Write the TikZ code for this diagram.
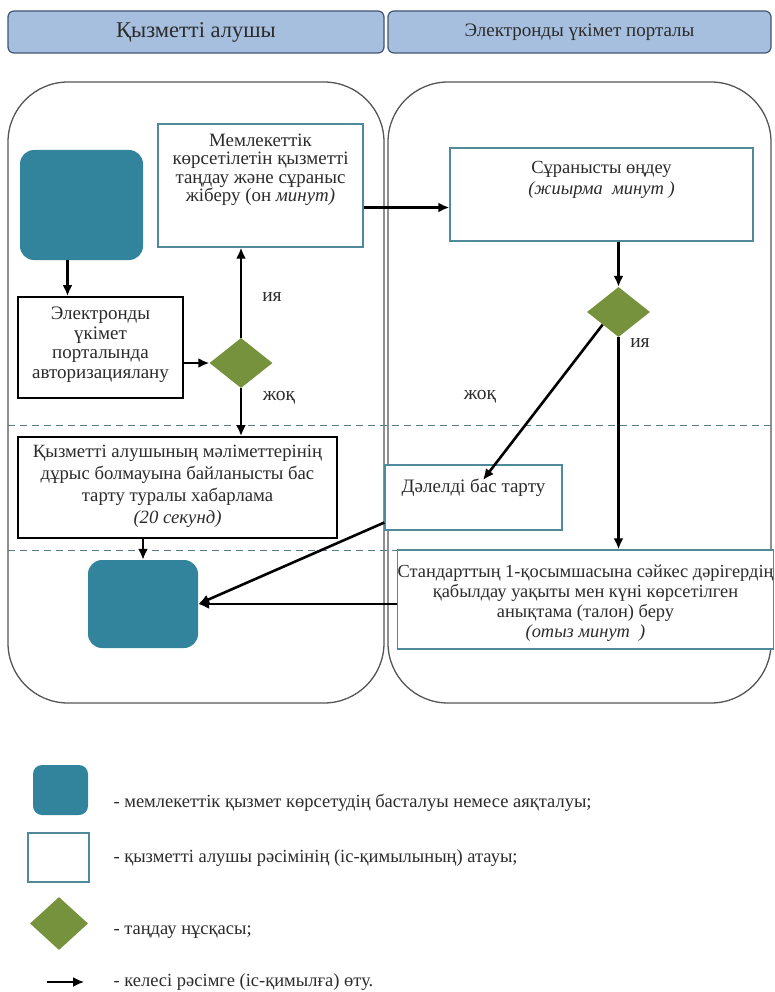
\documentclass[tikz,border=0pt]{standalone}
\usepackage{fontspec}
\setmainfont{Liberation Serif}
\usepackage{xcolor}
\usetikzlibrary{shapes.geometric,arrows.meta,calc}

\definecolor{headblue}{HTML}{A7BFDE}
\definecolor{headline}{HTML}{3F5571}
\definecolor{termteal}{HTML}{31849B}
\definecolor{choicegreen}{HTML}{76923C}
\definecolor{boxline}{HTML}{4F8A9B}
\definecolor{laneline}{HTML}{555555}
\definecolor{dashline}{HTML}{5B7A8C}
\definecolor{textdark}{HTML}{2B2B2B}

\tikzset{
  lanehead/.style={draw=headline, fill=headblue, line width=1.2pt, rounded corners=6pt},
  lane/.style={draw=laneline, line width=1.3pt, rounded corners=60pt},
  lanesep/.style={draw=dashline, line width=1pt, dash pattern=on 7pt off 5pt},
  term/.style={fill=termteal, rounded corners=14pt, inner sep=0pt},
  actbox/.style={draw=boxline, fill=white, line width=1.3pt, align=center, inner ysep=0pt},
  blkbox/.style={draw=black, fill=white, line width=1.8pt, align=center, inner ysep=0pt},
  choice/.style={diamond, fill=choicegreen, inner sep=0pt},
  arr/.style={-{Latex[length=11pt,width=10pt]}, line width=2.6pt},
  lbl/.style={font=\fontsize{19.5}{22}\selectfont},
  legtxt/.style={anchor=west, font=\fontsize{18.5}{22}\selectfont}
}

\begin{document}
\begin{tikzpicture}[x=1pt, y=-1pt, every node/.append style={text=textdark}]
  \useasboundingbox (0,0) rectangle (774,992);

  % Draw lanes
  \draw [lane] (8,82) rectangle (384,703);
  \draw [lane] (388,82) rectangle (771,703);
  \node [lanehead, minimum width=376pt, minimum height=42pt, font=\fontsize{22.5}{26}\selectfont] (hcl) at (196,32) {Қызметті алушы};
  \node [lanehead, minimum width=383pt, minimum height=42pt, font=\fontsize{19}{23}\selectfont] (hep) at (579.5,32) {Электронды үкімет порталы};

  % Draw separators
  \draw [lanesep] (8,425) -- (771,425);
  \draw [lanesep] (8,550) -- (771,550);

  % Left lane
  \node [term, minimum width=123pt, minimum height=110pt] (start) at (81.5,205) {};
  \node [actbox, minimum width=205pt, text height=78pt, text depth=45pt, font=\fontsize{18.9}{18.5}\selectfont] (svc) at (260.5,185.5) {Мемлекеттік\\көрсетілетін қызметті\\таңдау және сұраныс\\жіберу (он \textit{минут)}};
  \node [blkbox, minimum width=165pt, text height=81pt, text depth=20pt, font=\fontsize{19}{19.5}\selectfont] (auth) at (100.5,347.5) {Электронды\\үкімет\\порталында\\авторизациялану};
  \node [choice, minimum width=63pt, minimum height=50pt] (d1) at (241,363) {};
  \node [blkbox, minimum width=319pt, text height=86pt, text depth=15pt, font=\fontsize{18.7}{21.7}\selectfont] (err) at (177.5,487.5) {Қызметті алушының мәліметтерінің\\дұрыс болмауына байланысты бас\\тарту туралы хабарлама\\\textit{(20 секунд)}};
  \node [term, minimum width=110pt, minimum height=88pt] (endn) at (143,604) {};

  % Right lane
  \node [actbox, minimum width=303pt, text height=47pt, text depth=46pt, font=\fontsize{18.5}{21}\selectfont] (req) at (601.5,194.5) {Сұранысты өңдеу\\\textit{(жиырма\ \ минут )}};
  \node [choice, minimum width=63pt, minimum height=50pt] (d2) at (618.5,312) {};
  \node [actbox, minimum width=177pt, text height=27pt, text depth=38pt, font=\fontsize{19}{22}\selectfont] (dalel) at (473.5,497.5) {Дәлелді бас тарту};
  \node [actbox, inner xsep=0pt, minimum width=375pt, text height=87pt, text depth=12pt, font=\fontsize{18.4}{20}\selectfont] (fin) at (585.5,599.5) {Стандарттың 1-қосымшасына сәйкес дәрігердің\\қабылдау уақыты мен күні көрсетілген\\анықтама (талон) беру\\\textit{(отыз минут\ \ )}};

  % Draw arrows
  \coordinate (s1) at ($(start.south)+(-14,0)$);
  \draw [arr] (s1) -- (s1 |- auth.north);
  \draw [arr] (auth.east |- d1.west) -- (d1.west);
  \draw [arr] (d1.north) -- (d1.north |- svc.south);
  \draw [arr] (d1.south) -- (d1.south |- err.north);
  \draw [arr] (err.south -| endn.north) -- (endn.north);
  \coordinate (s2) at ($(svc.east)+(0,22)$);
  \draw [arr] (s2) -- (s2 -| req.west);
  \draw [arr] (req.south -| d2.north) -- (d2.north);
  \coordinate (dtip) at (483,480);
  \draw [arr] (d2.south west) -- (dtip);
  \draw [arr] (d2.south) -- (d2.south |- fin.north);
  \coordinate (s3) at ($(dalel.west)+(0,25)$);
  \draw [arr] (s3) -- (endn.east);
  \draw [arr] (fin.west |- endn.east) -- (endn.east);

  % Branch labels
  \node [lbl] (yes1) at (272,297) {ия};
  \node [lbl] (no1) at (279,398) {жоқ};
  \node [lbl] (yes2) at (640,343) {ия};
  \node [lbl] (no2) at (480,397) {жоқ};

  % Legend
  \node [term, minimum width=55pt, minimum height=50pt, rounded corners=9pt] (lgterm) at (60.5,790) {};
  \node [actbox, minimum width=61pt, minimum height=49pt] (lgbox) at (58.5,857.5) {};
  \node [choice, minimum width=58pt, minimum height=53pt] (lgchoice) at (59,923.5) {};
  \coordinate (lgA) at (47,982);
  \coordinate (lgB) at (84,982);
  \draw [arr, line width=1.8pt] (lgA) -- (lgB);
  \node [legtxt] (lt1) at (110,803) {- мемлекеттік қызмет көрсетудің басталуы немесе аяқталуы;};
  \node [legtxt] (lt2) at (110,858) {- қызметті алушы рәсімінің (іс-қимылының) атауы;};
  \node [legtxt] (lt3) at (110,932) {- таңдау нұсқасы;};
  \node [legtxt] (lt4) at (110,982) {- келесі рәсімге (іс-қимылға) өту.};
\end{tikzpicture}
\end{document}
